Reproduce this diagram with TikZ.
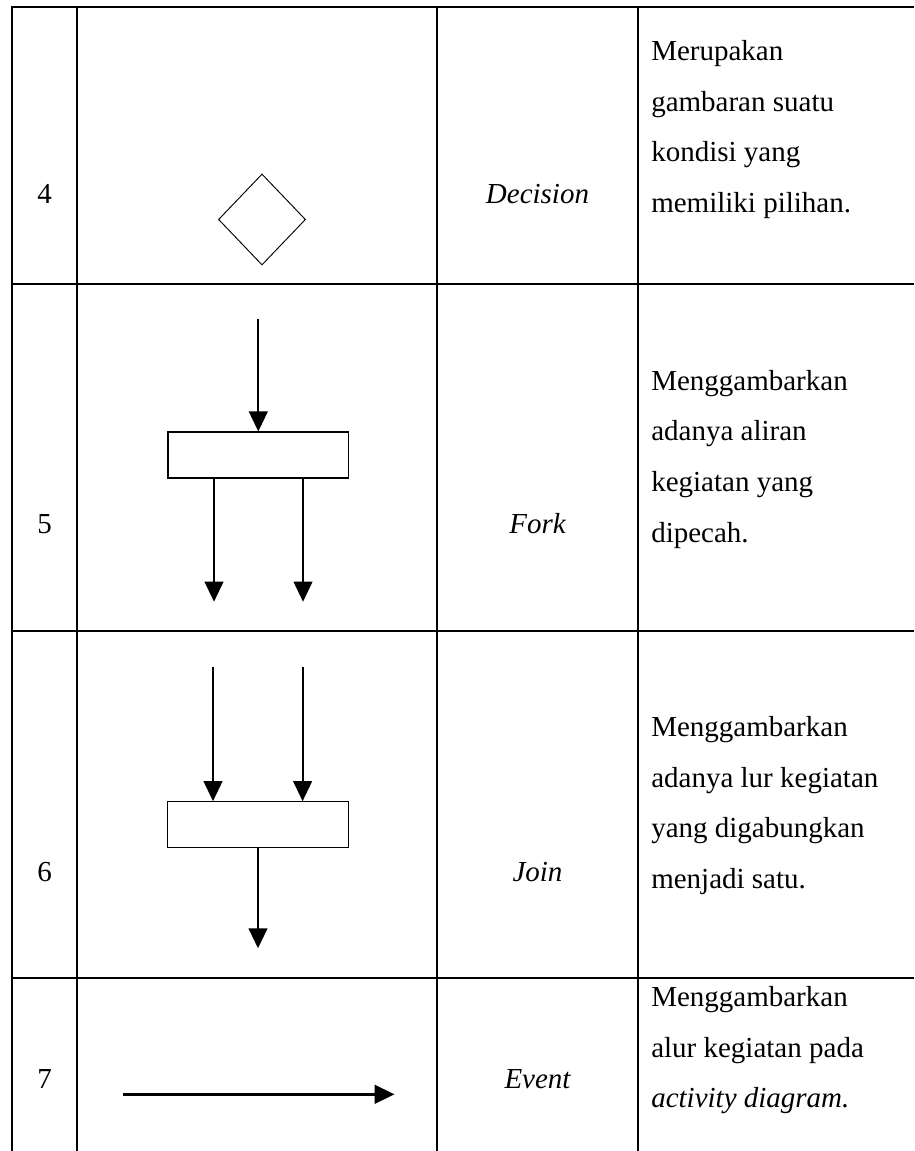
\documentclass[tikz,border=0pt]{standalone}
\usepackage{fontspec}
\setmainfont{Liberation Serif}
\usetikzlibrary{arrows.meta,shapes.geometric}
\begin{document}
\begin{tikzpicture}[x=0.75pt,y=-0.75pt,
  gridline/.style={line width=1.5pt},
  txt/.style={font=\fontsize{21.75pt}{26pt}\selectfont, inner sep=0pt, anchor=base},
  desc/.style={txt, anchor=base west},
  flow/.style={line width=1.5pt, -{Triangle[length=15pt,width=14pt]}},
  bar/.style={draw, line width=0.8pt, minimum width=135.5pt, minimum height=34.5pt, inner sep=0pt},
  dec/.style={draw, diamond, line width=0.7pt, minimum width=65.3pt, minimum height=68.3pt, inner sep=0pt, aspect=0.956},
]
\useasboundingbox (0,0) rectangle (914,1151);
% table grid
\draw[gridline] (12,1151) -- (12,7.5) -- (914,7.5);
\foreach \cx in {77,437,638} \draw[gridline] (\cx,7.5) -- (\cx,1151);
\foreach \ry in {284,631,977.5} \draw[gridline] (12,\ry) -- (914,\ry);

% row 4
\node[txt] (n4) at (44.5,204) {4};
\node[dec] (decision) at (262,219.5) {};
\node[txt] (name4) at (537.5,204) {\itshape Decision};
\node[desc] (d4a) at (651,61) {Merupakan};
\node[desc] (d4b) at (651,111.5) {gambaran suatu};
\node[desc] (d4c) at (651,162) {kondisi yang};
\node[desc] (d4d) at (651,212.5) {memiliki pilihan.};

% row 5
\node[txt] (n5) at (44.5,533) {5};
\node[bar] (forkbar) at (258.3,455) {};
\coordinate (forkin) at (258.3,319);
\coordinate (fo1) at (214,601.7);
\coordinate (fo2) at (303,601.7);
\draw[flow] (forkin) -- (forkbar.north);
\draw[flow] (forkbar.south -| fo1) -- (fo1);
\draw[flow] (forkbar.south -| fo2) -- (fo2);
\node[txt] (name5) at (537.5,533) {\itshape Fork};
\node[desc] (d5a) at (651,390) {Menggambarkan};
\node[desc] (d5b) at (651,440.8) {adanya aliran};
\node[desc] (d5c) at (651,491.5) {kegiatan yang};
\node[desc] (d5d) at (651,542.2) {dipecah.};

% row 6
\node[txt] (n6) at (44.5,881) {6};
\node[bar] (joinbar) at (258,824.7) {};
\coordinate (ji1) at (213,666.7);
\coordinate (ji2) at (302.6,666.7);
\coordinate (jout) at (258,948.3);
\draw[flow] (ji1) -- (ji1 |- joinbar.north);
\draw[flow] (ji2) -- (ji2 |- joinbar.north);
\draw[flow] (joinbar.south) -- (jout);
\node[txt] (name6) at (537.5,881) {\itshape Join};
\node[desc] (d6a) at (651,736.5) {Menggambarkan};
\node[desc] (d6b) at (651,787.2) {adanya lur kegiatan};
\node[desc] (d6c) at (651,837.8) {yang digabungkan};
\node[desc] (d6d) at (651,888.5) {menjadi satu.};

% row 7
\node[txt] (n7) at (44.5,1088) {7};
\coordinate (ev1) at (123,1094.3);
\coordinate (ev2) at (394.5,1094.3);
\draw[flow, line width=2pt] (ev1) -- (ev2);
\node[txt] (name7) at (537.5,1088) {\itshape Event};
\node[desc] (d7a) at (651,1006.5) {Menggambarkan};
\node[desc] (d7b) at (651,1057.2) {alur kegiatan pada};
\node[desc] (d7c) at (651,1107.8) {\itshape activity diagram.};
\end{tikzpicture}
\end{document}
